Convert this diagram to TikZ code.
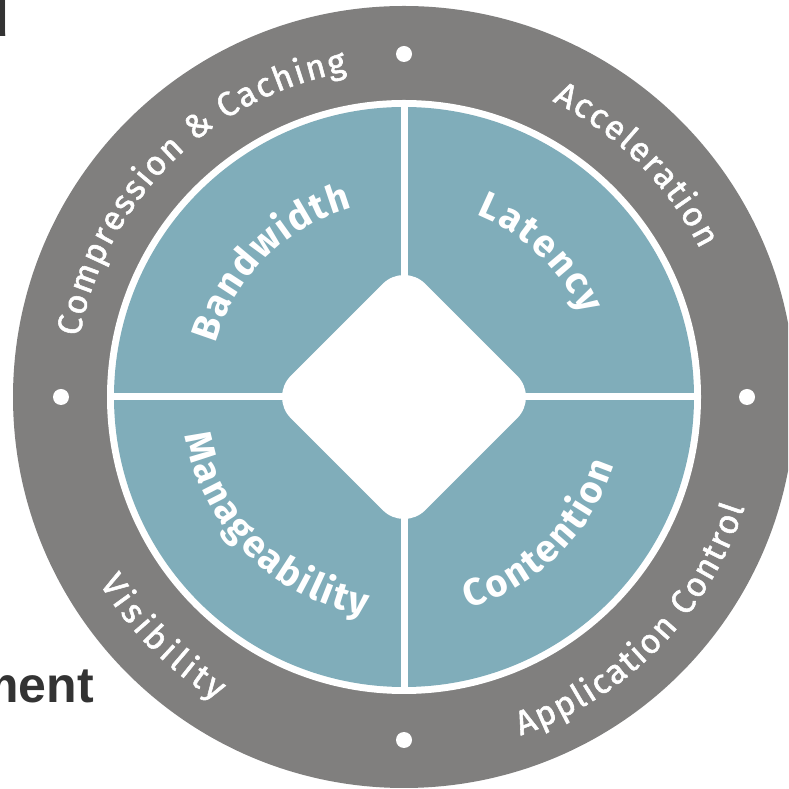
\documentclass[tikz,border=0pt]{standalone}
\usepackage{fontspec}
\setmainfont{Fira Sans}
\newfontfamily\titlefont{Liberation Sans}
\newfontfamily\ringfont{Fira Sans}[FakeBold=1.6]
\usetikzlibrary{decorations.text}
\definecolor{ringgray}{HTML}{807F7E}
\definecolor{quadteal}{HTML}{80ADBA}
\definecolor{titlegray}{HTML}{333333}
\newcommand\outerlabelfont{\ringfont\fontsize{34}{36}\selectfont}
\newcommand\innerlabelfont{\fontsize{38}{40}\selectfont\bfseries}
\begin{document}
\begin{tikzpicture}[x=1pt,y=1pt,
  arclabel/.style={decorate, decoration={text along path, text align={fit to path}, text color=white}},
  titletext/.style={font={\titlefont\bfseries\fontsize{50}{54}\selectfont}, text=titlegray, inner sep=0pt, anchor=base east}]
\useasboundingbox (0,0) rectangle (788,789);
\clip (0,0) rectangle (788,789);
\fill[white] (0,0) rectangle (788,789);
\coordinate (C) at (404,392);
% title fragments
\node[titletext] (titleA) at (9,752) {d};
\node[titletext] (titleB) at (94,86) {ment};
% rings
\fill[ringgray] (C) circle[radius=391];
\fill[white] (C) circle[radius=297];
\fill[quadteal] (C) circle[radius=290];
\draw[white, line width=7pt, shift={(C)}] (-297,0) -- (297,0) (0,-297) -- (0,297);
\fill[white, rounded corners=30pt, shift={(C)}] (0,134.4) -- (134.4,0) -- (0,-134.4) -- (-134.4,0) -- cycle;
\fill[white, shift={(C)}] (90:343) circle[radius=8] (0:343) circle[radius=8] (180:343) circle[radius=8] (270:343) circle[radius=8];
% outer ring labels
\path[arclabel, decoration={text={|\outerlabelfont|Compression {\&} Caching}}, shift={(C)}]
  (169.5:330) arc[start angle=169.5, end angle=100, radius=330];
\path[arclabel, decoration={text={|\outerlabelfont|Acceleration}}, shift={(C)}]
  (63.4:331) arc[start angle=63.4, end angle=26.5, radius=331];
\path[arclabel, decoration={text={|\outerlabelfont|Application Control}}, shift={(C)}]
  (-71:358) arc[start angle=-71, end angle=-18, radius=358];
\path[arclabel, decoration={text={|\outerlabelfont|Visibility}}, shift={(C)}]
  (-148.6:357) arc[start angle=-148.6, end angle=-121.7, radius=357];
% inner labels
\path[arclabel, decoration={text={|\innerlabelfont|Bandwidth}}, shift={(C)}]
  (164.2:196) arc[start angle=164.2, end angle=105.3, radius=196];
\path[arclabel, decoration={text={|\innerlabelfont|Latency}}, shift={(C)}]
  (68.4:196) arc[start angle=68.4, end angle=24.6, radius=196];
\path[arclabel, decoration={text={|\innerlabelfont|Manageability}}, shift={(C)}]
  (-170:222) arc[start angle=-170, end angle=-100, radius=222];
\path[arclabel, decoration={text={|\innerlabelfont|Contention}}, shift={(C)}]
  (-73:221) arc[start angle=-73, end angle=-18, radius=221];
\end{tikzpicture}
\end{document}
